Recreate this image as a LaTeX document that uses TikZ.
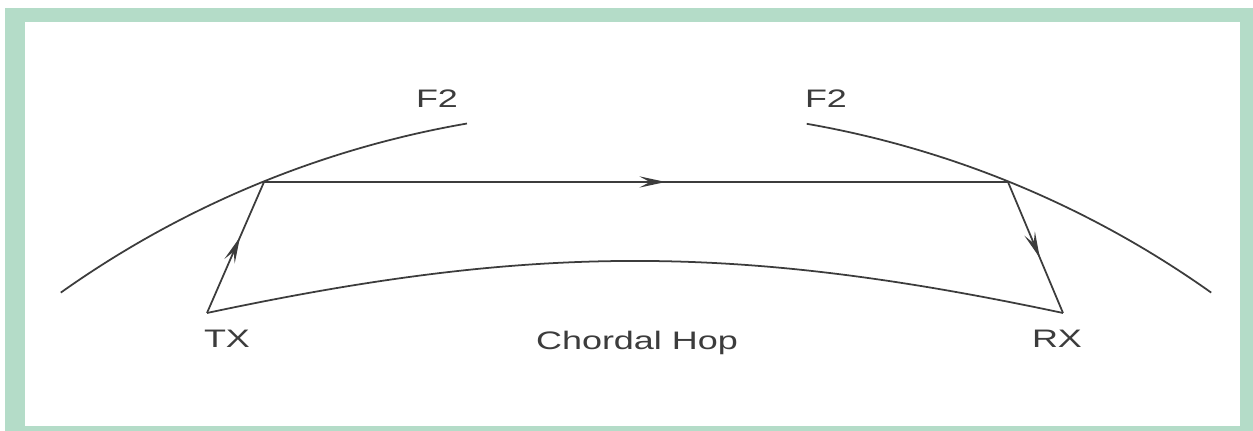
\documentclass[tikz,border=0pt]{standalone}
\usepackage{fontspec}
\newfontfamily\hopfont[FakeStretch=1.42]{Liberation Sans}
\usetikzlibrary{calc}
\usetikzlibrary{arrows.meta,decorations.markings}
\definecolor{framegreen}{RGB}{180,220,200}
\definecolor{raygray}{RGB}{60,60,60}

\begin{document}
\begin{tikzpicture}[x=0.01cm,y=0.01cm,
    ray/.style={line width=0.5pt, raygray},
    lbl/.style={font=\fontsize{7.2}{9}\hopfont, text=raygray, inner sep=0pt, anchor=base},
    midarrow/.style={postaction={decorate}, decoration={markings,
      mark=at position #1 with {\arrow{Stealth[length=7.5pt,width=3.2pt,inset=3pt]}}}}]
    \useasboundingbox (0,0) rectangle (1253,431);
    % Rahmen
    \fill[framegreen] (5,0) rectangle (1253,423);
    \fill[white] (25,5) rectangle (1240,409);
    % F2-Schicht
    \coordinate (earth) at (636,-671);
    \draw[ray] (earth) ++(125.4:993) arc (125.4:99.8:993);
    \draw[ray] (earth) ++(80.1:993) arc (80.1:54.6:993);
    % Strahlengang
    \coordinate (tx) at (207,118);
    \coordinate (refl) at (264,249);
    \coordinate (refr) at (1008,249);
    \coordinate (rx) at (1063,118);
    \draw[ray, midarrow=0.58] (tx) -- (refl);
    \draw[ray, midarrow=0.54] (refl) -- (refr);
    \draw[ray, midarrow=0.58] (refr) -- (rx);
    \draw[ray] (tx) to[bend left=12] (rx);
    % Beschriftung
    \node[lbl] (f2l) at (437,323) {F2};
    \node[lbl] (f2r) at (826,323) {F2};
    \node[lbl] (txl) at (227,83) {TX};
    \node[lbl] (rxl) at (1057,83) {RX};
    \node[lbl] (hop) at (637,81) {Chordal Hop};
\end{tikzpicture}
\end{document}
